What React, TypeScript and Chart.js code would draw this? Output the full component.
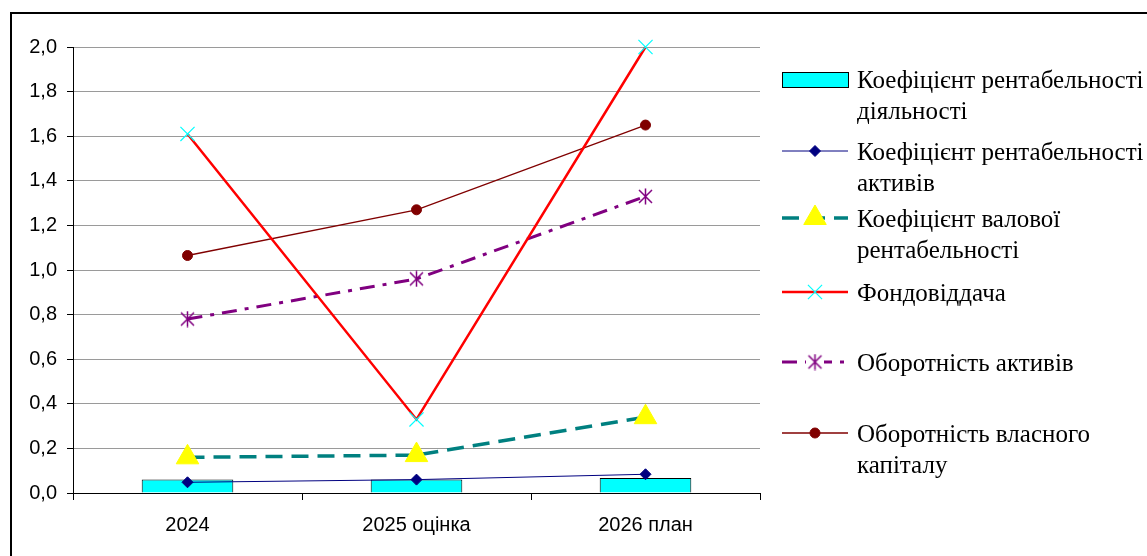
import React, { useEffect, useRef } from "react";
import { Chart, registerables } from "chart.js";

Chart.register(...registerables);

// ---- data ----
const categories = ["2024", "2025 оцінка", "2026 план"];
const rentDiyalnosti = [0.06, 0.06, 0.067];
const rentAktyviv = [0.048, 0.06, 0.084];
const valovaRent = [0.16, 0.17, 0.34];
const fondovidacha = [1.61, 0.33, 2.0];
const oborotAktyviv = [0.78, 0.96, 1.33];
const oborotKapitalu = [1.065, 1.27, 1.65];
const yTickValues = [0, 0.2, 0.4, 0.6, 0.8, 1.0, 1.2, 1.4, 1.6, 1.8, 2.0];

const seriesNames = [
  ["Коефіцієнт рентабельності", "діяльності"],
  ["Коефіцієнт рентабельності", "активів"],
  ["Коефіцієнт валової", "рентабельності"],
  ["Фондовіддача"],
  ["Оборотність активів"],
  ["Оборотність власного", "капіталу"],
];

// ---- layout ----
const W = 1147;
const H = 556;
const legendMarkerY = [79, 151, 218, 292, 362, 433];
const legendMarkerX0 = 782;
const legendMarkerX1 = 848;
const legendTextX = 857;

let starCanvas: HTMLCanvasElement | null = null;
function getStar(): HTMLCanvasElement {
  if (starCanvas) return starCanvas;
  const c = document.createElement("canvas");
  c.width = 17;
  c.height = 17;
  const g = c.getContext("2d")!;
  g.strokeStyle = "#800080";
  g.lineWidth = 1.5;
  g.beginPath();
  g.moveTo(2, 2);
  g.lineTo(15, 15);
  g.moveTo(15, 2);
  g.lineTo(2, 15);
  g.moveTo(8.5, 0.5);
  g.lineTo(8.5, 16.5);
  g.stroke();
  starCanvas = c;
  return c;
}

function drawPt(ctx: CanvasRenderingContext2D, ds: any, x: number, y: number) {
  const r = ds.pointRadius;
  ctx.fillStyle = ds.pointBackgroundColor;
  ctx.strokeStyle = ds.pointBorderColor;
  ctx.lineWidth = ds.pointBorderWidth || 1;
  ctx.beginPath();
  if (ds.pointStyle === "rectRot") {
    ctx.moveTo(x, y - r);
    ctx.lineTo(x + r, y);
    ctx.lineTo(x, y + r);
    ctx.lineTo(x - r, y);
    ctx.closePath();
    ctx.fill();
    ctx.stroke();
  } else if (ds.pointStyle === "triangle") {
    for (let k = 0; k < 3; k++) {
      const a = (k * 2 * Math.PI) / 3;
      const px = x + Math.sin(a) * r;
      const py = y - Math.cos(a) * r;
      if (k === 0) ctx.moveTo(px, py);
      else ctx.lineTo(px, py);
    }
    ctx.closePath();
    ctx.fill();
    ctx.stroke();
  } else if (ds.pointStyle === "crossRot") {
    const d = r * Math.SQRT1_2;
    ctx.moveTo(x - d, y - d);
    ctx.lineTo(x + d, y + d);
    ctx.moveTo(x + d, y - d);
    ctx.lineTo(x - d, y + d);
    ctx.stroke();
  } else {
    ctx.arc(x, y, r, 0, Math.PI * 2);
    ctx.fill();
    ctx.stroke();
  }
}

const legendPlugin = {
  id: "customLegend",
  afterDraw(chart: any) {
    const ctx: CanvasRenderingContext2D = chart.ctx;
    const star = getStar();
    ctx.save();
    const cx = (legendMarkerX0 + legendMarkerX1) / 2;
    seriesNames.forEach((lines, i) => {
      const y = legendMarkerY[i];
      ctx.setLineDash([]);
      if (i === 0) {
        ctx.fillStyle = "#00FFFF";
        ctx.strokeStyle = "#000";
        ctx.lineWidth = 1;
        ctx.fillRect(legendMarkerX0, y - 7, legendMarkerX1 - legendMarkerX0, 15);
        ctx.strokeRect(legendMarkerX0 + 0.5, y - 6.5, legendMarkerX1 - legendMarkerX0, 15);
      } else {
        const ds = chart.data.datasets[i];
        ctx.strokeStyle = ds.borderColor;
        ctx.lineWidth = ds.borderWidth;
        ctx.setLineDash(ds.borderDash || []);
        ctx.beginPath();
        ctx.moveTo(legendMarkerX0, y);
        ctx.lineTo(legendMarkerX1, y);
        ctx.stroke();
        ctx.setLineDash([]);
        if (i === 4) {
          ctx.fillStyle = "#fff";
          ctx.fillRect(cx - 9, y - 4, 18, 8);
          ctx.drawImage(star, cx - star.width / 2, y - star.height / 2);
        } else {
          drawPt(ctx, ds, cx, y);
        }
      }
      ctx.fillStyle = "#000";
      ctx.font = "25px 'Liberation Serif', 'Times New Roman', serif";
      ctx.textBaseline = "alphabetic";
      ctx.textAlign = "left";
      lines.forEach((t, j) => {
        ctx.fillText(t, legendTextX, y + 9 + j * 31);
      });
    });
    ctx.restore();
  },
};

export default function App() {
  const ref = useRef<HTMLCanvasElement>(null);
  useEffect(() => {
    if (!ref.current) return;
    const star = getStar();
    const fmt = (v: number) => v.toFixed(1).replace(".", ",");
    const chart: any = new Chart(ref.current, {
      type: "bar",
      data: {
        labels: categories,
        datasets: [
          {
            type: "bar",
            label: seriesNames[0].join(" "),
            data: rentDiyalnosti,
            backgroundColor: "#00FFFF",
            borderColor: "#000000",
            borderWidth: 1,
            barPercentage: 0.4,
            categoryPercentage: 1,
            order: 1,
          } as any,
          {
            type: "line",
            label: seriesNames[1].join(" "),
            data: rentAktyviv,
            borderColor: "#000080",
            borderWidth: 1,
            pointStyle: "rectRot",
            pointRadius: 5.5,
            pointBackgroundColor: "#000080",
            pointBorderColor: "#000080",
            pointBorderWidth: 1,
            tension: 0,
            clip: false,
            order: 0,
          },
          {
            type: "line",
            label: seriesNames[2].join(" "),
            data: valovaRent,
            borderColor: "#008080",
            borderWidth: 3.5,
            borderDash: [17, 9],
            pointStyle: "triangle",
            pointRadius: 13,
            pointBackgroundColor: "#FFFF00",
            pointBorderColor: "#FFFF00",
            pointBorderWidth: 1,
            tension: 0,
            clip: false,
            order: 0,
          },
          {
            type: "line",
            label: seriesNames[3].join(" "),
            data: fondovidacha,
            borderColor: "#FF0000",
            borderWidth: 2.5,
            pointStyle: "crossRot",
            pointRadius: 10,
            pointBackgroundColor: "#00FFFF",
            pointBorderColor: "#00FFFF",
            pointBorderWidth: 1.2,
            tension: 0,
            clip: false,
            order: 0,
          },
          {
            type: "line",
            label: seriesNames[4].join(" "),
            data: oborotAktyviv,
            borderColor: "#800080",
            borderWidth: 3,
            borderDash: [15, 8, 4, 8],
            pointStyle: star,
            pointRadius: 8,
            pointBackgroundColor: "#800080",
            pointBorderColor: "#800080",
            tension: 0,
            clip: false,
            order: 0,
          },
          {
            type: "line",
            label: seriesNames[5].join(" "),
            data: oborotKapitalu,
            borderColor: "#800000",
            borderWidth: 1.3,
            pointStyle: "circle",
            pointRadius: 5,
            pointBackgroundColor: "#800000",
            pointBorderColor: "#800000",
            pointBorderWidth: 1,
            tension: 0,
            clip: false,
            order: 0,
          },
        ],
      },
      options: {
        responsive: false,
        animation: false,
        events: [],
        layout: { padding: { left: 0, top: 47, right: W - 760, bottom: 0 } },
        plugins: {
          legend: { display: false },
          tooltip: { enabled: false },
          title: { display: false },
        },
        scales: {
          x: {
            type: "category",
            offset: true,
            grid: {
              offset: true,
              drawOnChartArea: false,
              tickLength: 7,
              color: "#000",
              tickColor: "#000",
            },
            border: { color: "#000", width: 1 },
            ticks: {
              color: "#000",
              font: { family: "'Liberation Sans', Arial, sans-serif", size: 20 },
              padding: 13,
              maxRotation: 0,
            },
            afterFit: (s: any) => {
              s.height = 63;
            },
          },
          y: {
            min: 0,
            max: 2,
            grid: {
              color: "#9a9a9a",
              tickColor: "#000",
              tickLength: 6,
              lineWidth: 1,
            },
            border: { color: "#000", width: 1 },
            ticks: {
              color: "#000",
              font: { family: "'Liberation Sans', Arial, sans-serif", size: 20 },
              padding: 10,
              callback: (v: any) => fmt(Number(v)),
            },
            afterBuildTicks: (s: any) => {
              s.ticks = yTickValues.map((v) => ({ value: v }));
            },
            afterFit: (s: any) => {
              s.width = 73;
            },
          },
        },
      },
      plugins: [legendPlugin],
    });
    return () => chart.destroy();
  }, []);

  return (
    <div
      style={{
        position: "fixed",
        left: 0,
        top: 0,
        width: W,
        height: H,
        overflow: "hidden",
        background: "#fff",
      }}
    >
      <canvas ref={ref} width={W} height={H} style={{ position: "absolute", left: 0, top: 0 }} />
      <div
        style={{
          position: "absolute",
          left: 10,
          top: 12,
          width: W + 20,
          height: H + 20,
          borderLeft: "2px solid #000",
          borderTop: "2px solid #000",
          boxSizing: "border-box",
          pointerEvents: "none",
        }}
      />
    </div>
  );
}
